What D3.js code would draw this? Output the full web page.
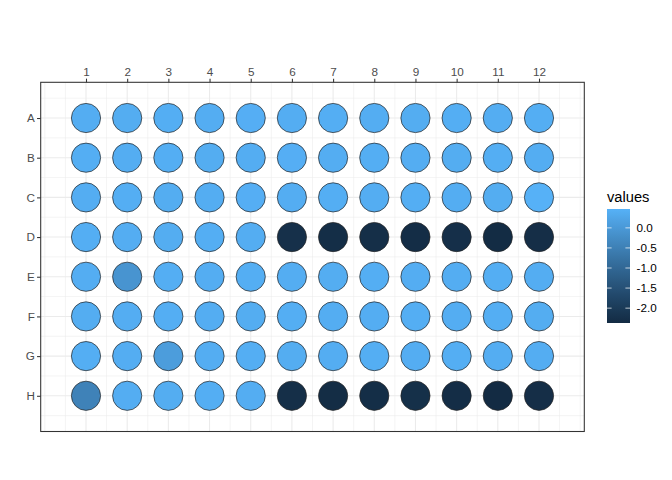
<!DOCTYPE html>
<html><head><meta charset="utf-8">
<script src="https://cdn.jsdelivr.net/npm/d3@7"></script>
<style>body{margin:0;background:#fff}svg{display:block}</style>
</head><body>
<script>
const rowLabels = ["A","B","C","D","E","F","G","H"];
const colLabels = [1,2,3,4,5,6,7,8,9,10,11,12];
const rowA = [0.40, 0.39, 0.41, 0.40, 0.42, 0.40, 0.41, 0.40, 0.39, 0.41, 0.40, 0.41];
const rowB = [0.41, 0.40, 0.41, 0.39, 0.40, 0.42, 0.40, 0.41, 0.40, 0.39, 0.41, 0.40];
const rowC = [0.40, 0.41, 0.39, 0.40, 0.42, 0.40, 0.41, 0.40, 0.41, 0.40, 0.39, 0.47];
const rowD = [0.41, 0.40, 0.39, 0.41, 0.40, -2.25, -2.30, -2.28, -2.32, -2.27, -2.35, -2.29];
const rowE = [0.40, -0.10, 0.41, 0.40, 0.41, 0.40, 0.39, 0.41, 0.40, 0.40, 0.41, 0.40];
const rowF = [0.39, 0.40, 0.41, 0.40, 0.39, 0.41, 0.40, 0.40, 0.41, 0.40, 0.41, 0.39];
const rowG = [0.41, 0.40, 0.08, 0.40, 0.41, 0.39, 0.40, 0.41, 0.40, 0.41, 0.40, 0.40];
const rowH = [-0.45, 0.40, 0.39, 0.41, 0.40, -2.28, -2.33, -2.30, -2.26, -2.31, -2.37, -2.29];
const legendBreaks = [0.0, -0.5, -1.0, -1.5, -2.0];
const legendTitle = "values";

const rowsData = [rowA,rowB,rowC,rowD,rowE,rowF,rowG,rowH];
const wells = [];
rowsData.forEach((arr,ri)=>arr.forEach((v,ci)=>wells.push({row:ri+1,col:ci+1,v})));

const W=672,H=480;
const svg=d3.select("body").append("svg").attr("width",W).attr("height",H);
const font="'Liberation Sans', Arial, Helvetica, sans-serif";

const pL=40.7,pR=584.3,pT=82.3,pB=431.5;
const x=d3.scaleLinear().domain([-0.1,13.1]).range([pL,pR]);
const y=d3.scaleLinear().domain([0.1,8.9]).range([pT,pB]);

const vmin=d3.min(wells,d=>d.v), vmax=d3.max(wells,d=>d.v);
const color=d3.scaleLinear().domain([vmin,vmax]).range(["#132B43","#56B1F7"]).interpolate(d3.interpolateLab);

const g=svg.append("g");
g.append("rect").attr("x",pL).attr("y",pT).attr("width",pR-pL).attr("height",pB-pT).attr("fill","#fff");
const xMinor=d3.range(0,13.01,0.5).filter(v=>v%1!==0 || v===0 || v===13);
const yMinor=d3.range(0.5,8.51,1);
g.selectAll(".xm").data(xMinor).join("line").attr("x1",d=>x(d)).attr("x2",d=>x(d)).attr("y1",pT).attr("y2",pB).attr("stroke","#EBEBEB").attr("stroke-width",0.53);
g.selectAll(".ym").data(yMinor).join("line").attr("y1",d=>y(d)).attr("y2",d=>y(d)).attr("x1",pL).attr("x2",pR).attr("stroke","#EBEBEB").attr("stroke-width",0.53);
g.selectAll(".xM").data(colLabels).join("line").attr("x1",d=>x(d)).attr("x2",d=>x(d)).attr("y1",pT).attr("y2",pB).attr("stroke","#EBEBEB").attr("stroke-width",1.07);
g.selectAll(".yM").data(d3.range(1,9)).join("line").attr("y1",d=>y(d)).attr("y2",d=>y(d)).attr("x1",pL).attr("x2",pR).attr("stroke","#EBEBEB").attr("stroke-width",1.07);

g.selectAll("circle.w").data(wells).join("circle").attr("class","w")
 .attr("cx",d=>x(d.col)).attr("cy",d=>y(d.row)).attr("r",14.6)
 .attr("fill",d=>color(d.v)).attr("stroke","#222").attr("stroke-width",0.7);

g.append("rect").attr("x",pL).attr("y",pT).attr("width",pR-pL).attr("height",pB-pT).attr("fill","none").attr("stroke","#333333").attr("stroke-width",1.07);

const xAxis=d3.axisTop(x).tickValues(colLabels).tickFormat(d=>d).tickSize(3.65).tickPadding(2.2);
const xa=svg.append("g").attr("transform",`translate(0,${pT})`).call(xAxis);
const yAxis=d3.axisLeft(y).tickValues(d3.range(1,9)).tickFormat(d=>rowLabels[d-1]).tickSize(3.65).tickPadding(2.2);
const ya=svg.append("g").attr("transform",`translate(${pL},0)`).call(yAxis);
[xa,ya].forEach(a=>{
  a.select(".domain").remove();
  a.selectAll(".tick line").attr("stroke","#333333").attr("stroke-width",1.07);
  a.selectAll(".tick text").attr("fill","#4D4D4D").style("font-family",font).style("font-size","11.7px");
});

const lx=607, ly=209, lw=23, lh=114;
const ls=d3.scaleLinear().domain([vmin,vmax]).range([ly+lh,ly]);
const defs=svg.append("defs");
const grad=defs.append("linearGradient").attr("id","cb").attr("x1",0).attr("y1",1).attr("x2",0).attr("y2",0);
d3.range(0,1.0001,0.05).forEach(t=>grad.append("stop").attr("offset",t).attr("stop-color",color(vmin+t*(vmax-vmin))));
svg.append("rect").attr("x",lx).attr("y",ly).attr("width",lw).attr("height",lh).attr("fill","url(#cb)");
legendBreaks.forEach(b=>{
  const yy=ls(b);
  svg.append("line").attr("x1",lx).attr("x2",lx+4.6).attr("y1",yy).attr("y2",yy).attr("stroke","#fff").attr("stroke-opacity",0.7).attr("stroke-width",1);
  svg.append("line").attr("x1",lx+lw-4.6).attr("x2",lx+lw).attr("y1",yy).attr("y2",yy).attr("stroke","#fff").attr("stroke-opacity",0.7).attr("stroke-width",1);
  svg.append("text").attr("x",lx+lw+6.5).attr("y",yy).attr("dy","0.35em").text(b.toFixed(1).replace("-0.0","0.0"))
   .style("font-family",font).style("font-size","11.7px").attr("fill","#000");
});
svg.append("text").attr("x",lx).attr("y",ly-7).text(legendTitle).style("font-family",font).style("font-size","14.7px").attr("fill","#000");
</script>
</body></html>
